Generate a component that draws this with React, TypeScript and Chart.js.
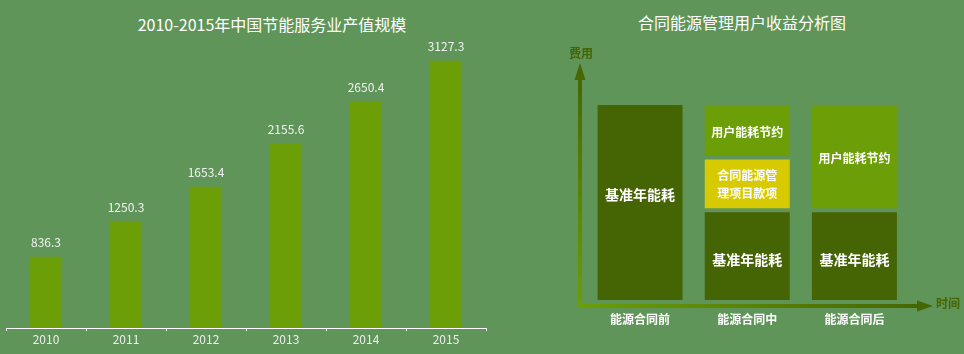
import React, { useEffect, useRef } from "react";
import { Chart, registerables } from "chart.js";

Chart.register(...registerables);

// ---------- data: left chart ----------
const leftTitle = "2010-2015年中国节能服务业产值规模";
const years = ["2010", "2011", "2012", "2013", "2014", "2015"];
const outputValues = [836.3, 1250.3, 1653.4, 2155.6, 2650.4, 3127.3];

// ---------- data: right chart ----------
const rightTitle = "合同能源管理用户收益分析图";
const stages = ["能源合同前", "能源合同中", "能源合同后"];
const baselineRanges: ([number, number] | null)[] = [[0, 100], [0, 45], [0, 45]];
const contractRanges: ([number, number] | null)[] = [null, [47, 72], null];
const savingRanges: ([number, number] | null)[] = [null, [74, 100], [47, 100]];
const baselineLabel = ["基准年能耗"];
const contractLabel = ["合同能源管", "理项目款项"];
const savingLabel = ["用户能耗节约"];
const yAxisName = "费用";
const xAxisName = "时间";

const BG = "#609559";
const BAR = "#6b9e07";
const DARK = "#456403";
const YELLOW = "#d7ca00";
const FONT = "'Microsoft YaHei', 'Noto Sans CJK SC', 'Noto Sans', sans-serif";

function LeftChart() {
  const ref = useRef<HTMLCanvasElement>(null);
  useEffect(() => {
    if (!ref.current) return;
    const valueLabels = {
      id: "valueLabels",
      afterDatasetsDraw(chart: any) {
        const ctx = chart.ctx;
        const meta = chart.getDatasetMeta(0);
        ctx.save();
        ctx.font = `12px ${FONT}`;
        ctx.fillStyle = "#f2f2f2";
        ctx.textAlign = "center";
        ctx.textBaseline = "middle";
        meta.data.forEach((el: any, i: number) => {
          ctx.fillText(String(outputValues[i].toFixed(1)), el.x, el.y - 14);
        });
        ctx.restore();
      },
    };
    const chart = new Chart(ref.current, {
      type: "bar",
      data: {
        labels: years,
        datasets: [
          {
            data: outputValues,
            backgroundColor: BAR,
            borderWidth: 0,
            barPercentage: 0.4,
            categoryPercentage: 1,
          },
        ],
      },
      options: {
        animation: false,
        responsive: false,
        layout: { padding: { left: 6, right: 14, top: 29, bottom: 5.5 } },
        plugins: { legend: { display: false }, tooltip: { enabled: false }, title: { display: false } },
        scales: {
          y: { display: false, min: 0, max: 3500 },
          x: {
            border: { display: true, color: "#ffffff", width: 1 },
            grid: { display: true, drawOnChartArea: false, drawTicks: true, tickLength: 3, color: "#ffffff", offset: true },
            ticks: { color: "#eeeeee", font: { size: 12, family: FONT }, padding: 1.5 },
          },
        },
      },
      plugins: [valueLabels],
    });
    return () => chart.destroy();
  }, []);
  return (
    <canvas
      ref={ref}
      width={500}
      height={354}
      style={{ position: "absolute", left: 0, top: 0, width: 500, height: 354 }}
    />
  );
}

function RightChart() {
  const ref = useRef<HTMLCanvasElement>(null);
  useEffect(() => {
    if (!ref.current) return;
    const segLabels = [baselineLabel, contractLabel, savingLabel];
    const decor = {
      id: "decor",
      beforeDatasetsDraw(chart: any) {
        const { ctx, chartArea } = chart;
        const { left, right, bottom, top } = chartArea;
        const ax = left - 6.5;
        const ay = bottom + 6;
        ctx.save();
        // vertical arrow
        const vg = ctx.createLinearGradient(0, ay, 0, top - 42);
        vg.addColorStop(0, BAR);
        vg.addColorStop(1, DARK);
        ctx.fillStyle = vg;
        ctx.fillRect(ax - 2, top - 28, 4, ay + 2 - (top - 28));
        ctx.beginPath();
        ctx.moveTo(ax, top - 42);
        ctx.lineTo(ax - 5.5, top - 25);
        ctx.lineTo(ax + 5.5, top - 25);
        ctx.closePath();
        ctx.fill();
        // horizontal arrow
        const hg = ctx.createLinearGradient(ax, 0, right + 25, 0);
        hg.addColorStop(0, BAR);
        hg.addColorStop(1, DARK);
        ctx.fillStyle = hg;
        ctx.fillRect(ax - 2, ay - 2, right + 10 - (ax - 2), 4);
        ctx.beginPath();
        ctx.moveTo(right + 25, ay);
        ctx.lineTo(right + 9, ay - 5.5);
        ctx.lineTo(right + 9, ay + 5.5);
        ctx.closePath();
        ctx.fill();
        // axis names
        ctx.font = `bold 12px ${FONT}`;
        ctx.fillStyle = DARK;
        ctx.textAlign = "center";
        ctx.textBaseline = "middle";
        ctx.fillText(yAxisName, ax + 1, top - 52);
        ctx.fillText(xAxisName, right + 40, ay - 3);
        ctx.restore();
      },
      afterDatasetsDraw(chart: any) {
        const ctx = chart.ctx;
        ctx.save();
        ctx.fillStyle = "#ffffff";
        ctx.textAlign = "center";
        ctx.textBaseline = "middle";
        chart.data.datasets.forEach((ds: any, di: number) => {
          const meta = chart.getDatasetMeta(di);
          meta.data.forEach((el: any, i: number) => {
            if (ds.data[i] == null) return;
            const lines = segLabels[di];
            let cy = (el.y + el.base) / 2;
            if (di === 0) cy += i === 0 ? -8 : 4;
            if (di === 2) cy += 2;
            const big = di === 0;
            ctx.font = `bold ${big ? 14 : 12}px ${FONT}`;
            const lh = 18;
            lines.forEach((t: string, li: number) => {
              ctx.fillText(t, el.x, cy + (li - (lines.length - 1) / 2) * lh);
            });
          });
        });
        ctx.restore();
      },
    };
    const chart = new Chart(ref.current, {
      type: "bar",
      data: {
        labels: stages,
        datasets: [
          { label: "基准年能耗", data: baselineRanges as any, backgroundColor: DARK },
          { label: "合同能源管理项目款项", data: contractRanges as any, backgroundColor: YELLOW },
          { label: "用户能耗节约", data: savingRanges as any, backgroundColor: BAR },
        ],
      },
      options: {
        animation: false,
        responsive: false,
        datasets: { bar: { grouped: false, barPercentage: 0.793, categoryPercentage: 1, borderWidth: 0 } },
        layout: { padding: { left: 26.5, right: 56, top: 65, bottom: 15.6 } },
        plugins: { legend: { display: false }, tooltip: { enabled: false }, title: { display: false } },
        scales: {
          y: { display: false, min: 0, max: 100 },
          x: {
            border: { display: false },
            grid: { display: false, drawTicks: false },
            ticks: { color: "#ffffff", font: { size: 12, weight: "bold", family: FONT }, padding: 12 },
          },
        },
      },
      plugins: [decor],
    });
    return () => chart.destroy();
  }, []);
  return (
    <canvas
      ref={ref}
      width={404}
      height={314}
      style={{ position: "absolute", left: 560, top: 40, width: 404, height: 314 }}
    />
  );
}

export default function App() {
  useEffect(() => {
    document.body.style.margin = "0";
  }, []);
  const titleStyle: React.CSSProperties = {
    position: "absolute",
    width: 400,
    textAlign: "center",
    color: "#ffffff",
    fontFamily: FONT,
    fontSize: 16,
    lineHeight: "20px",
    whiteSpace: "nowrap",
  };
  return (
    <div
      style={{
        position: "fixed",
        left: 0,
        top: 0,
        width: 964,
        height: 354,
        background: BG,
        overflow: "hidden",
      }}
    >
      <div style={{ ...titleStyle, left: 272 - 200, top: 14 }}>{leftTitle}</div>
      <div style={{ ...titleStyle, left: 742 - 200, top: 12 }}>{rightTitle}</div>
      <LeftChart />
      <RightChart />
    </div>
  );
}
